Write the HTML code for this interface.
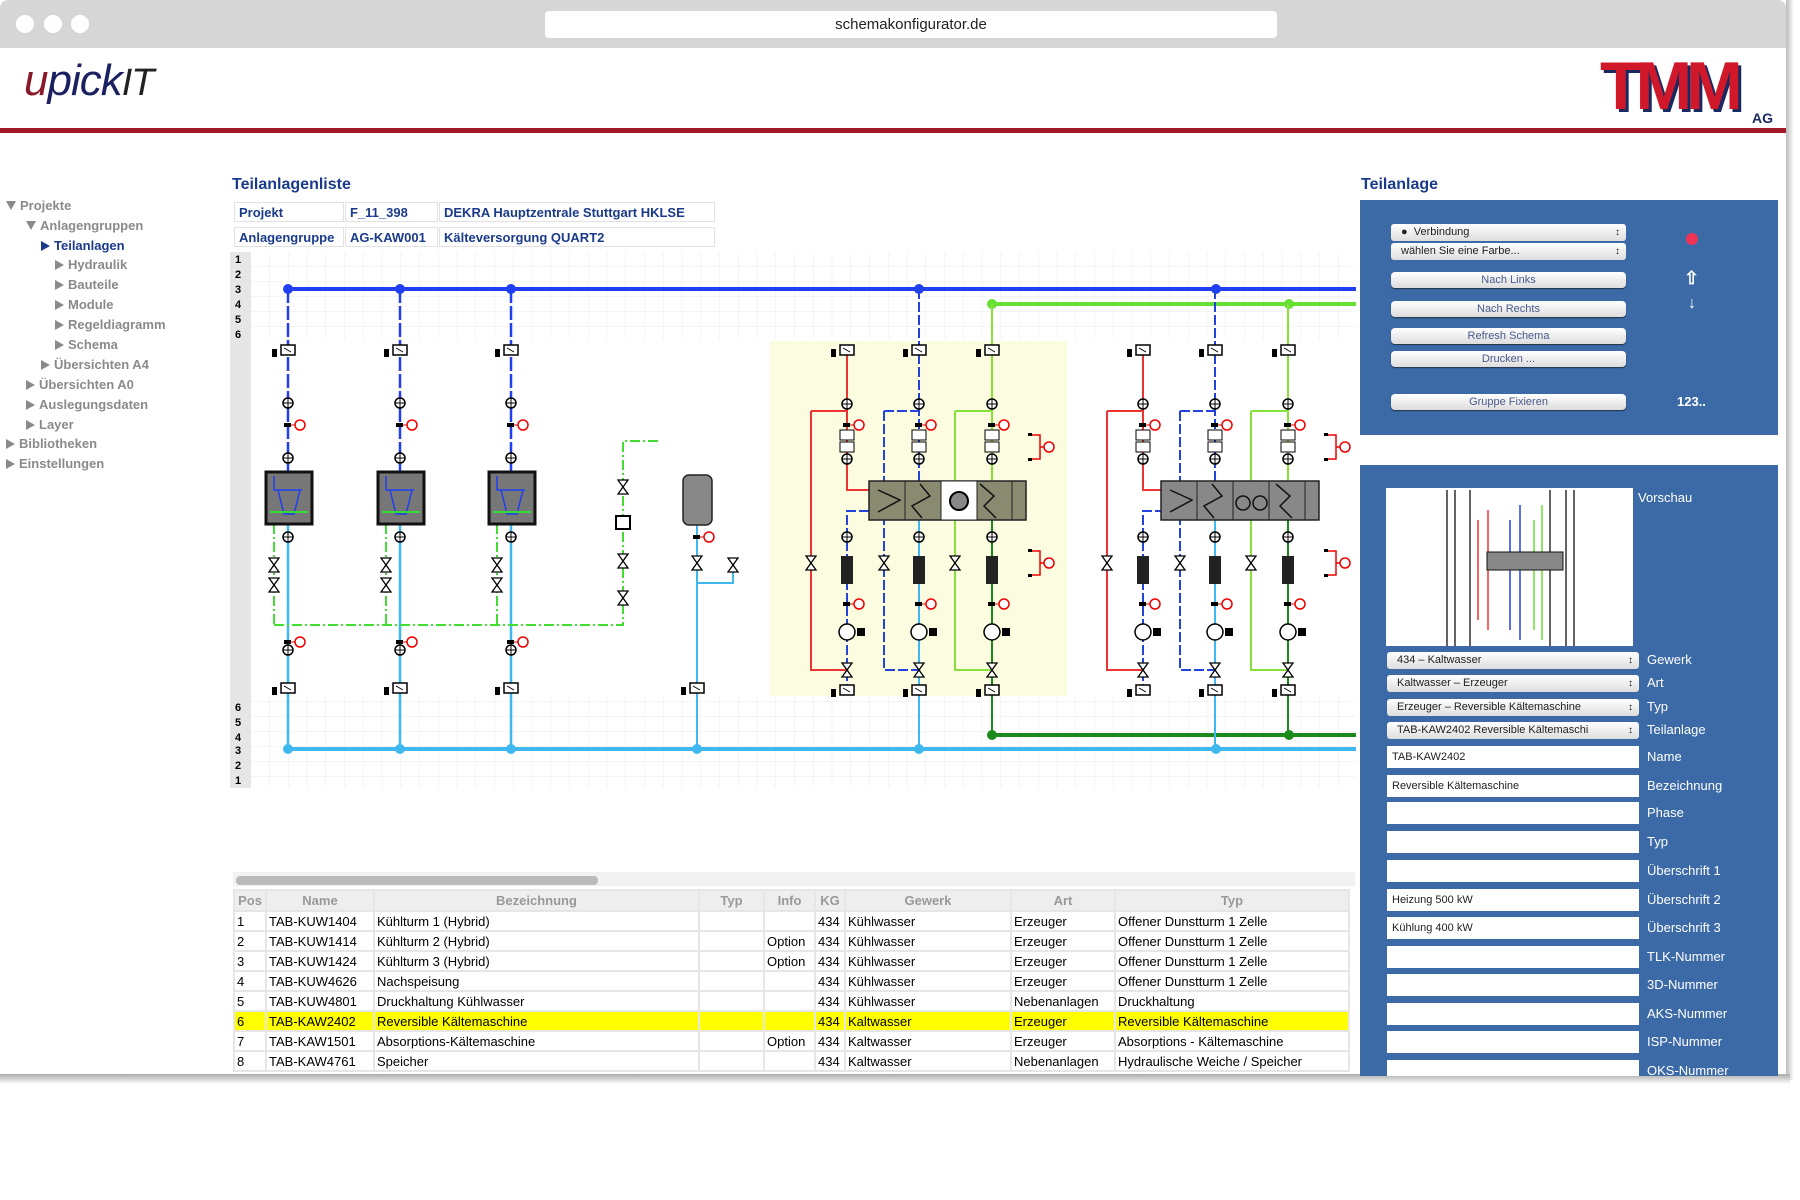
<!DOCTYPE html>
<html><head><meta charset="utf-8"><style>
*{margin:0;padding:0;box-sizing:border-box}
body{width:1800px;height:1200px;background:#fff;position:relative;overflow:hidden;font-family:"Liberation Sans",sans-serif}
.a{position:absolute}
.tree{position:absolute;font-size:13px;font-weight:bold;color:#8a8a8a;white-space:nowrap}
.tree b{display:inline-block;width:0;height:0;border-left:9px solid #8a8a8a;border-top:5px solid transparent;border-bottom:5px solid transparent;margin-right:4px;vertical-align:-1px}
.tree i{display:inline-block;width:0;height:0;border-top:9px solid #8a8a8a;border-left:5px solid transparent;border-right:5px solid transparent;margin-right:4px;vertical-align:0}
.hd{position:absolute;border:1px solid #e2e2e2;font-size:13px;font-weight:bold;color:#1a3a8a;padding:2px 4px;height:20px;line-height:15px}
.btn{position:absolute;left:1391px;width:235px;height:16px;background:linear-gradient(#fff,#ddd);border-radius:4px;font-size:11px;color:#4a5a8a;text-align:center;line-height:16px;box-shadow:0 1px 1px #234}
.dd{position:absolute;left:1387px;width:252px;height:17px;background:linear-gradient(#fff,#ddd);border-radius:3px;font-size:11px;color:#222;line-height:17px;padding-left:10px}
.dd:after{content:"\2195";position:absolute;right:6px;top:0;font-size:10px}
.fld{position:absolute;left:1387px;width:252px;height:22px;background:#fff;font-size:11px;color:#222;line-height:22px;padding-left:5px}
.lbl{position:absolute;left:1647px;font-size:13px;color:#fff}
table{position:absolute;left:233px;top:889px;border-collapse:collapse;font-family:"Liberation Sans Narrow","Liberation Sans",sans-serif;font-size:13px;table-layout:fixed}
td,th{border:2px solid #e6e6e6;height:20px;padding:0 2px;white-space:nowrap;overflow:hidden;text-align:left}
th{background:#eee;color:#999;font-weight:bold;text-align:center;height:21px}
tr.y td{background:#ffff00}
</style></head><body>
<div class="a" style="left:0;top:0;width:1786px;height:48px;background:#d6d6d6;border-radius:8px 8px 0 0"></div>
<div class="a" style="left:16px;top:15px;width:18px;height:18px;border-radius:50%;background:#fff"></div>
<div class="a" style="left:44px;top:15px;width:18px;height:18px;border-radius:50%;background:#fff"></div>
<div class="a" style="left:71px;top:15px;width:18px;height:18px;border-radius:50%;background:#fff"></div>
<div class="a" style="left:545px;top:11px;width:732px;height:27px;background:#fff;border-radius:4px;font-size:15px;text-align:center;line-height:27px;color:#222">schemakonfigurator.de</div>
<div class="a" style="left:1786px;top:0;width:8px;height:1080px;background:linear-gradient(90deg,#bbb,#fff)"></div>
<div class="a" style="left:0;top:1074px;width:1790px;height:10px;background:linear-gradient(#aaa,#fff)"></div>
<div class="a" style="left:24px;top:56px;font-size:44px;font-style:italic;color:#8a1a2a;letter-spacing:-1px">u<span style="color:#1a2060">pick</span><span style="color:#222;font-size:38px">IT</span></div>
<div class="a" style="left:1600px;top:52px;font-size:68px;font-weight:bold;color:#d0182a;letter-spacing:-6px;line-height:68px;text-shadow:3px 3px 0 #1a2a60">TMM</div>
<div class="a" style="left:1752px;top:110px;font-size:14px;font-weight:bold;color:#1a2a60">AG</div>
<div class="a" style="left:0;top:128px;width:1786px;height:5px;background:#a3192c"></div>
<div class="tree" style="left:6px;top:198px"><i></i>Projekte</div>
<div class="tree" style="left:26px;top:218px"><i></i>Anlagengruppen</div>
<div class="tree" style="left:41px;top:238px;color:#1a3a8a"><b style="border-left-color:#1a3a8a"></b>Teilanlagen</div>
<div class="tree" style="left:55px;top:257px"><b></b>Hydraulik</div>
<div class="tree" style="left:55px;top:277px"><b></b>Bauteile</div>
<div class="tree" style="left:55px;top:297px"><b></b>Module</div>
<div class="tree" style="left:55px;top:317px"><b></b>Regeldiagramm</div>
<div class="tree" style="left:55px;top:337px"><b></b>Schema</div>
<div class="tree" style="left:41px;top:357px"><b></b>Übersichten A4</div>
<div class="tree" style="left:26px;top:377px"><b></b>Übersichten A0</div>
<div class="tree" style="left:26px;top:397px"><b></b>Auslegungsdaten</div>
<div class="tree" style="left:26px;top:417px"><b></b>Layer</div>
<div class="tree" style="left:6px;top:436px"><b></b>Bibliotheken</div>
<div class="tree" style="left:6px;top:456px"><b></b>Einstellungen</div>
<div class="a" style="left:232px;top:176px;font-size:16px;font-weight:bold;color:#1a3a8a">Teilanlagenliste</div>
<div class="hd" style="left:234px;top:202px;width:110px">Projekt</div>
<div class="hd" style="left:345px;top:202px;width:93px">F_11_398</div>
<div class="hd" style="left:439px;top:202px;width:276px">DEKRA Hauptzentrale Stuttgart HKLSE</div>
<div class="hd" style="left:234px;top:227px;width:110px">Anlagengruppe</div>
<div class="hd" style="left:345px;top:227px;width:93px">AG-KAW001</div>
<div class="hd" style="left:439px;top:227px;width:276px">Kälteversorgung QUART2</div>
<svg class="a" style="left:0;top:0" width="1800" height="1200" viewBox="0 0 1800 1200">
<defs>
<pattern id="g" x="251" y="252" width="18.75" height="15" patternUnits="userSpaceOnUse"><path d="M18.75 0V15M0 15H18.75" stroke="#ebebeb" stroke-width="1" fill="none"/></pattern>
<symbol id="bx" overflow="visible"><rect x="-7" y="-5" width="14" height="10" fill="#fff" stroke="#000" stroke-width="1.5"/><path d="M-4 -2L3 2" stroke="#000"/><rect x="-16" y="-1" width="5" height="8" fill="#000"/></symbol>
<symbol id="cv" overflow="visible"><circle r="5" fill="#fff" stroke="#000" stroke-width="1.5"/><path d="M-5 0H5M0 -5V5" stroke="#000"/></symbol>
<symbol id="rt" overflow="visible"><rect x="-4" y="-2" width="7" height="4" fill="#000"/><path d="M3 0H7" stroke="#e00"/><circle cx="12" r="5" fill="#fff" stroke="#e00" stroke-width="1.5"/></symbol>
<symbol id="bt" overflow="visible"><path d="M-5 -7L5 -7L-5 7L5 7Z" fill="#fff" stroke="#000" stroke-width="1.3"/></symbol>
<symbol id="pm" overflow="visible"><circle r="8" fill="#fff" stroke="#000" stroke-width="1.5"/><rect x="10" y="-4" width="8" height="8" fill="#000"/></symbol>
<symbol id="rs" overflow="visible"><path d="M-8 -12H0V12H-8M0 0H4" stroke="#e00" stroke-width="1.5" fill="none"/><circle cx="9" r="5" fill="#fff" stroke="#e00" stroke-width="1.5"/><rect x="-12" y="-14" width="4" height="3"/><rect x="-12" y="11" width="4" height="3"/></symbol>
</defs>
<rect x="230" y="252" width="1126" height="536" fill="url(#g)"/>
<rect x="230" y="252" width="21" height="536" fill="#e6e6e6"/>
<rect x="251" y="339" width="1105" height="357" fill="#fff"/>
<rect x="770" y="341" width="297" height="355" fill="#fcfce0"/>
<g font-size="11" font-weight="bold" font-family="Liberation Sans">
<text x="235" y="263">1</text><text x="235" y="278">2</text><text x="235" y="293">3</text><text x="235" y="308">4</text><text x="235" y="323">5</text><text x="235" y="338">6</text>
<text x="235" y="711">6</text><text x="235" y="726">5</text><text x="235" y="741">4</text><text x="235" y="754">3</text><text x="235" y="769">2</text><text x="235" y="784">1</text>
</g>
<path d="M288 289H1356" stroke="#1f3ff0" stroke-width="4"/>
<path d="M992 304H1356" stroke="#66e033" stroke-width="4"/>
<path d="M992 735H1356" stroke="#1a8a1a" stroke-width="4"/>
<path d="M288 749H1356" stroke="#3fb8f0" stroke-width="4"/>
<g fill="#1f3ff0"><circle cx="288" cy="289" r="5"/><circle cx="400" cy="289" r="5"/><circle cx="511" cy="289" r="5"/><circle cx="919" cy="289" r="5"/><circle cx="1216" cy="289" r="5"/></g>
<g fill="#66e033"><circle cx="992" cy="304" r="5"/><circle cx="1289" cy="304" r="5"/></g>
<g fill="#1a8a1a"><circle cx="992" cy="735" r="5"/><circle cx="1289" cy="735" r="5"/></g>
<g fill="#3fb8f0"><circle cx="288" cy="749" r="5"/><circle cx="400" cy="749" r="5"/><circle cx="511" cy="749" r="5"/><circle cx="697" cy="749" r="5"/><circle cx="919" cy="749" r="5"/><circle cx="1216" cy="749" r="5"/></g>
<g id="ct">
<path d="M288 289V472" stroke="#1f3ff0" stroke-width="2.5" stroke-dasharray="14 3"/>
<path d="M288 524V749" stroke="#3fb8f0" stroke-width="2.5"/>
<path d="M274 524V625" stroke="#44dd33" stroke-width="2" stroke-dasharray="10 3 2 3"/>
<use href="#bx" x="288" y="350"/><use href="#cv" x="288" y="403"/><use href="#rt" x="288" y="425"/><use href="#cv" x="288" y="458"/>
<rect x="266" y="472" width="46" height="52" fill="#777" stroke="#111" stroke-width="3"/>
<path d="M274 476V490H302M278 490L284 514H294L300 490" stroke="#1f3ff0" stroke-width="1.5" fill="none"/>
<path d="M270 512H308" stroke="#33dd33" stroke-width="2"/>
<use href="#cv" x="288" y="537"/><use href="#bt" x="274" y="565"/><use href="#bt" x="274" y="585"/>
<use href="#rt" x="288" y="642"/><use href="#cv" x="288" y="650"/><use href="#bx" x="288" y="688"/>
</g>
<use href="#ct" x="112"/><use href="#ct" x="223"/>
<path d="M274 625H623V441H658" stroke="#44dd33" stroke-width="2" fill="none" stroke-dasharray="10 3 2 3"/>
<use href="#bt" x="623" y="487"/><rect x="616" y="516" width="14" height="13" fill="#fff" stroke="#000" stroke-width="2"/><use href="#bt" x="623" y="561"/><use href="#bt" x="623" y="598"/>
<path d="M697 525V749M697 583H733V565" stroke="#3fb8f0" stroke-width="2" fill="none"/>
<rect x="683" y="475" width="29" height="50" rx="6" fill="#888" stroke="#222" stroke-width="1.5"/>
<use href="#rt" x="697" y="537"/><use href="#bt" x="697" y="563"/><use href="#bt" x="733" y="565"/><use href="#bx" x="697" y="688"/>
<g id="ch">
<path d="M847 350V490H869" stroke="#e33" stroke-width="2" fill="none"/>
<path d="M811 411H847M811 411V670H847" stroke="#e33" stroke-width="2" fill="none"/>
<path d="M869 511H847V688" stroke="#2244dd" stroke-width="2" fill="none" stroke-dasharray="10 3"/>
<path d="M919 289V481M884 411H919M884 411V670H919" stroke="#2244dd" stroke-width="2" fill="none" stroke-dasharray="10 3"/>
<path d="M919 520V749" stroke="#3fb8f0" stroke-width="2"/>
<path d="M992 304V481M955 411H992M955 411V670H992" stroke="#88e03a" stroke-width="2" fill="none"/>
<path d="M992 520V735" stroke="#1a8a1a" stroke-width="2"/>
<use href="#bx" x="847" y="350"/><use href="#bx" x="919" y="350"/><use href="#bx" x="992" y="350"/>
<use href="#cv" x="847" y="404"/><use href="#cv" x="919" y="404"/><use href="#cv" x="992" y="404"/>
<use href="#rt" x="847" y="425"/><use href="#rt" x="919" y="425"/><use href="#rt" x="992" y="425"/>
<rect x="840" y="430" width="14" height="10" fill="#fff" stroke="#000"/><rect x="840" y="442" width="14" height="10" fill="#fff" stroke="#000"/><use href="#cv" x="847" y="459"/>
<rect x="912" y="430" width="14" height="10" fill="#fff" stroke="#000"/><rect x="912" y="442" width="14" height="10" fill="#fff" stroke="#000"/><use href="#cv" x="919" y="459"/>
<rect x="985" y="430" width="14" height="10" fill="#fff" stroke="#000"/><rect x="985" y="442" width="14" height="10" fill="#fff" stroke="#000"/><use href="#cv" x="992" y="459"/>
<use href="#bt" x="811" y="563"/><use href="#bt" x="884" y="563"/><use href="#bt" x="955" y="563"/>
<use href="#cv" x="847" y="537"/><use href="#cv" x="919" y="537"/><use href="#cv" x="992" y="537"/>
<rect x="841" y="556" width="12" height="28" fill="#222"/><rect x="913" y="556" width="12" height="28" fill="#222"/><rect x="986" y="556" width="12" height="28" fill="#222"/>
<use href="#rt" x="847" y="604"/><use href="#rt" x="919" y="604"/><use href="#rt" x="992" y="604"/>
<use href="#pm" x="847" y="632"/><use href="#pm" x="919" y="632"/><use href="#pm" x="992" y="632"/>
<use href="#bt" x="847" y="670"/><use href="#bt" x="919" y="670"/><use href="#bt" x="992" y="670"/>
<use href="#bx" x="847" y="690"/><use href="#bx" x="919" y="690"/><use href="#bx" x="992" y="690"/>
<use href="#rs" x="1040" y="447"/><use href="#rs" x="1040" y="563"/>
</g>
<use href="#ch" x="296"/>
<rect x="869" y="481" width="157" height="39" fill="#8a8a70" stroke="#222" stroke-width="1.5"/>
<rect x="941" y="481" width="36" height="39" fill="#fff" stroke="#222"/><path d="M905 481V520M1012 481V520" stroke="#222"/>
<circle cx="959" cy="501" r="9" fill="#888" stroke="#000" stroke-width="2"/>
<path d="M878 490L900 500L878 512M920 484L930 496L912 506L922 518M980 484L994 496L984 506L996 518" stroke="#111" stroke-width="1.5" fill="none"/>
<rect x="1161" y="481" width="158" height="39" fill="#888" stroke="#222" stroke-width="1.5"/>
<path d="M1197 481V520M1233 481V520M1269 481V520M1305 481V520" stroke="#222"/>
<circle cx="1243" cy="503" r="7" fill="none" stroke="#111" stroke-width="1.5"/><circle cx="1260" cy="503" r="7" fill="none" stroke="#111" stroke-width="1.5"/>
<path d="M1170 490L1192 500L1170 512M1212 484L1222 496L1204 506L1214 518M1276 484L1290 496L1280 506L1292 518" stroke="#111" stroke-width="1.5" fill="none"/>
<rect x="233" y="872" width="1122" height="14" fill="#f2f2f2"/>
<rect x="236" y="876" width="362" height="9" rx="4" fill="#bbb"/>
<rect x="1360" y="200" width="418" height="235" fill="#3c6aa6"/>
<rect x="1360" y="465" width="418" height="611" fill="#3c6aa6"/>
<rect x="1386" y="488" width="247" height="158" fill="#fff"/>
<g stroke="#111" stroke-width="1.3" fill="none"><path d="M1447 490V646M1574 490V646M1455 490V646M1566 490V646M1470 490V646M1550 490V646"/></g>
<path d="M1478 520V620M1488 510V630" stroke="#e33" stroke-width="1.5"/><path d="M1510 520V630M1520 505V640" stroke="#2244dd" stroke-width="1.5"/><path d="M1534 520V630M1542 505V640" stroke="#66e033" stroke-width="1.5"/>
<rect x="1487" y="552" width="76" height="18" fill="#888" stroke="#111"/>
<circle cx="1692" cy="239" r="6" fill="#ee3355"/>
</svg>
<div class="a" style="left:1361px;top:176px;font-size:16px;font-weight:bold;color:#1a3a8a">Teilanlage</div>
<div class="dd" style="top:224px;left:1391px;width:235px">&#9679;&nbsp; Verbindung</div>
<div class="dd" style="top:243px;left:1391px;width:235px">wählen Sie eine Farbe...</div>
<div class="btn" style="top:272px">Nach Links</div>
<div class="btn" style="top:301px">Nach Rechts</div>
<div class="btn" style="top:328px">Refresh Schema</div>
<div class="btn" style="top:351px">Drucken ...</div>
<div class="btn" style="top:394px">Gruppe Fixieren</div>
<div class="a" style="left:1684px;top:268px;color:#fff;font-size:18px;font-weight:bold">⇧</div>
<div class="a" style="left:1688px;top:295px;color:#fff;font-size:16px;font-weight:bold">↓</div>
<div class="a" style="left:1677px;top:394px;color:#fff;font-size:13px;font-weight:bold">123..</div>
<div class="lbl" style="left:1638px;top:490px">Vorschau</div>
<div class="dd" style="top:652px">434 – Kaltwasser</div><div class="lbl" style="top:652px">Gewerk</div>
<div class="dd" style="top:675px">Kaltwasser – Erzeuger</div><div class="lbl" style="top:675px">Art</div>
<div class="dd" style="top:699px">Erzeuger – Reversible Kältemaschine</div><div class="lbl" style="top:699px">Typ</div>
<div class="dd" style="top:722px">TAB-KAW2402 Reversible Kältemaschi</div><div class="lbl" style="top:722px">Teilanlage</div>
<div class="fld" style="top:746px">TAB-KAW2402</div><div class="lbl" style="top:749px">Name</div>
<div class="fld" style="top:775px">Reversible Kältemaschine</div><div class="lbl" style="top:778px">Bezeichnung</div>
<div class="fld" style="top:802px"></div><div class="lbl" style="top:805px">Phase</div>
<div class="fld" style="top:831px"></div><div class="lbl" style="top:834px">Typ</div>
<div class="fld" style="top:860px"></div><div class="lbl" style="top:863px">Überschrift 1</div>
<div class="fld" style="top:889px">Heizung 500 kW</div><div class="lbl" style="top:892px">Überschrift 2</div>
<div class="fld" style="top:917px">Kühlung 400 kW</div><div class="lbl" style="top:920px">Überschrift 3</div>
<div class="fld" style="top:946px"></div><div class="lbl" style="top:949px">TLK-Nummer</div>
<div class="fld" style="top:974px"></div><div class="lbl" style="top:977px">3D-Nummer</div>
<div class="fld" style="top:1003px"></div><div class="lbl" style="top:1006px">AKS-Nummer</div>
<div class="fld" style="top:1031px"></div><div class="lbl" style="top:1034px">ISP-Nummer</div>
<div class="fld" style="top:1060px;height:16px"></div><div class="lbl" style="top:1063px">OKS-Nummer</div>
<div class="a" style="left:233px;top:889px;width:1122px;height:185px;overflow:hidden">
<table style="left:0;top:0;width:1115px">
<colgroup><col style="width:32px"><col style="width:108px"><col style="width:325px"><col style="width:65px"><col style="width:51px"><col style="width:30px"><col style="width:166px"><col style="width:104px"><col style="width:234px"></colgroup>
<tr><th>Pos</th><th>Name</th><th>Bezeichnung</th><th>Typ</th><th>Info</th><th>KG</th><th>Gewerk</th><th>Art</th><th>Typ</th></tr>
<tr><td>1</td><td>TAB-KUW1404</td><td>Kühlturm 1 (Hybrid)</td><td></td><td></td><td>434</td><td>Kühlwasser</td><td>Erzeuger</td><td>Offener Dunstturm 1 Zelle</td></tr>
<tr><td>2</td><td>TAB-KUW1414</td><td>Kühlturm 2 (Hybrid)</td><td></td><td>Option</td><td>434</td><td>Kühlwasser</td><td>Erzeuger</td><td>Offener Dunstturm 1 Zelle</td></tr>
<tr><td>3</td><td>TAB-KUW1424</td><td>Kühlturm 3 (Hybrid)</td><td></td><td>Option</td><td>434</td><td>Kühlwasser</td><td>Erzeuger</td><td>Offener Dunstturm 1 Zelle</td></tr>
<tr><td>4</td><td>TAB-KUW4626</td><td>Nachspeisung</td><td></td><td></td><td>434</td><td>Kühlwasser</td><td>Erzeuger</td><td>Offener Dunstturm 1 Zelle</td></tr>
<tr><td>5</td><td>TAB-KUW4801</td><td>Druckhaltung Kühlwasser</td><td></td><td></td><td>434</td><td>Kühlwasser</td><td>Nebenanlagen</td><td>Druckhaltung</td></tr>
<tr class="y"><td>6</td><td>TAB-KAW2402</td><td>Reversible Kältemaschine</td><td></td><td></td><td>434</td><td>Kaltwasser</td><td>Erzeuger</td><td>Reversible Kältemaschine</td></tr>
<tr><td>7</td><td>TAB-KAW1501</td><td>Absorptions-Kältemaschine</td><td></td><td>Option</td><td>434</td><td>Kaltwasser</td><td>Erzeuger</td><td>Absorptions - Kältemaschine</td></tr>
<tr><td>8</td><td>TAB-KAW4761</td><td>Speicher</td><td></td><td></td><td>434</td><td>Kaltwasser</td><td>Nebenanlagen</td><td>Hydraulische Weiche / Speicher</td></tr>
</table></div>
</body></html>
